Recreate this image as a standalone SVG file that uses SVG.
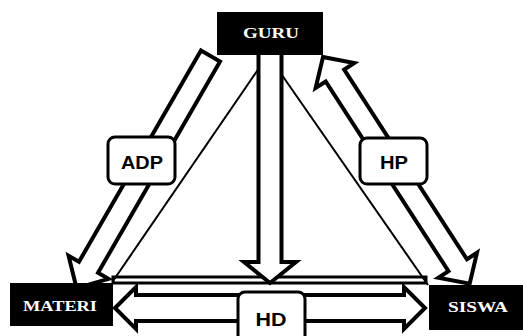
<svg xmlns="http://www.w3.org/2000/svg" width="523" height="336" viewBox="0 0 523 336">
<style>
.thin{stroke:#000;stroke-width:2;fill:none}
.arrow{fill:#fff;stroke:#000;stroke-width:4;stroke-linejoin:miter}
.node{fill:#000}
.ntext{fill:#fff;font-family:"Liberation Serif",serif;font-weight:bold;font-size:15px;text-anchor:middle}
.lbox{fill:#fff;stroke:#000;stroke-width:3}
.ltext{fill:#000;font-family:"Liberation Sans",Arial,sans-serif;font-weight:bold;font-size:19px;text-anchor:middle}
</style>
<rect width="523" height="336" fill="#fff"/>
<g id="connectors">
  <line class="thin" x1="268" y1="55" x2="113" y2="281"/>
  <line class="thin" x1="268" y1="55" x2="428" y2="285"/>
  <rect x="113" y="277" width="313" height="6" fill="none" stroke="#000" stroke-width="3"/>
  <path id="arrow-adp" class="arrow" transform="translate(210.5,56) rotate(120)" d="M0,-11 L244,-11 L244,-23 L268,0 L244,23 L244,11 L0,11 Z"/>
  <path id="arrow-hp" class="arrow" transform="translate(323,57) rotate(57.1)" d="M0,0 L22,-23 L22,-11 L248,-11 L248,-23 L270,0 L248,23 L248,11 L22,11 L22,23 Z"/>
  <path id="arrow-guru-down" class="arrow" stroke-width="5" d="M258.5,50 L258.5,262 L244,262 L270,283 L296,262 L281.5,262 L281.5,50 Z"/>
  <path id="arrow-hd" class="arrow" d="M115,308 L136,287 L136,295 L404,295 L404,287 L425,308 L404,329 L404,321 L136,321 L136,329 Z"/>
</g>
<g id="label-adp">
  <rect class="lbox" x="108" y="137" width="67" height="47" rx="7"/>
  <text class="ltext" x="142" y="169" textLength="42" lengthAdjust="spacingAndGlyphs">ADP</text>
</g>
<g id="label-hp">
  <rect class="lbox" x="360" y="138" width="67" height="46" rx="7"/>
  <text class="ltext" x="394" y="169" textLength="28" lengthAdjust="spacingAndGlyphs">HP</text>
</g>
<g id="label-hd">
  <rect class="lbox" x="238" y="292" width="67" height="52" rx="7"/>
  <text class="ltext" x="271" y="326" textLength="31" lengthAdjust="spacingAndGlyphs">HD</text>
</g>
<g id="node-guru">
  <rect class="node" x="217" y="12" width="106" height="43"/>
  <text class="ntext" x="271" y="38" textLength="56" lengthAdjust="spacingAndGlyphs">GURU</text>
</g>
<g id="node-materi">
  <rect class="node" x="10" y="283" width="103" height="43"/>
  <text class="ntext" x="60" y="311" textLength="74" lengthAdjust="spacingAndGlyphs">MATERI</text>
</g>
<g id="node-siswa">
  <rect class="node" x="429" y="285" width="94" height="45"/>
  <text class="ntext" x="478" y="312" textLength="60" lengthAdjust="spacingAndGlyphs">SISWA</text>
</g>
</svg>
